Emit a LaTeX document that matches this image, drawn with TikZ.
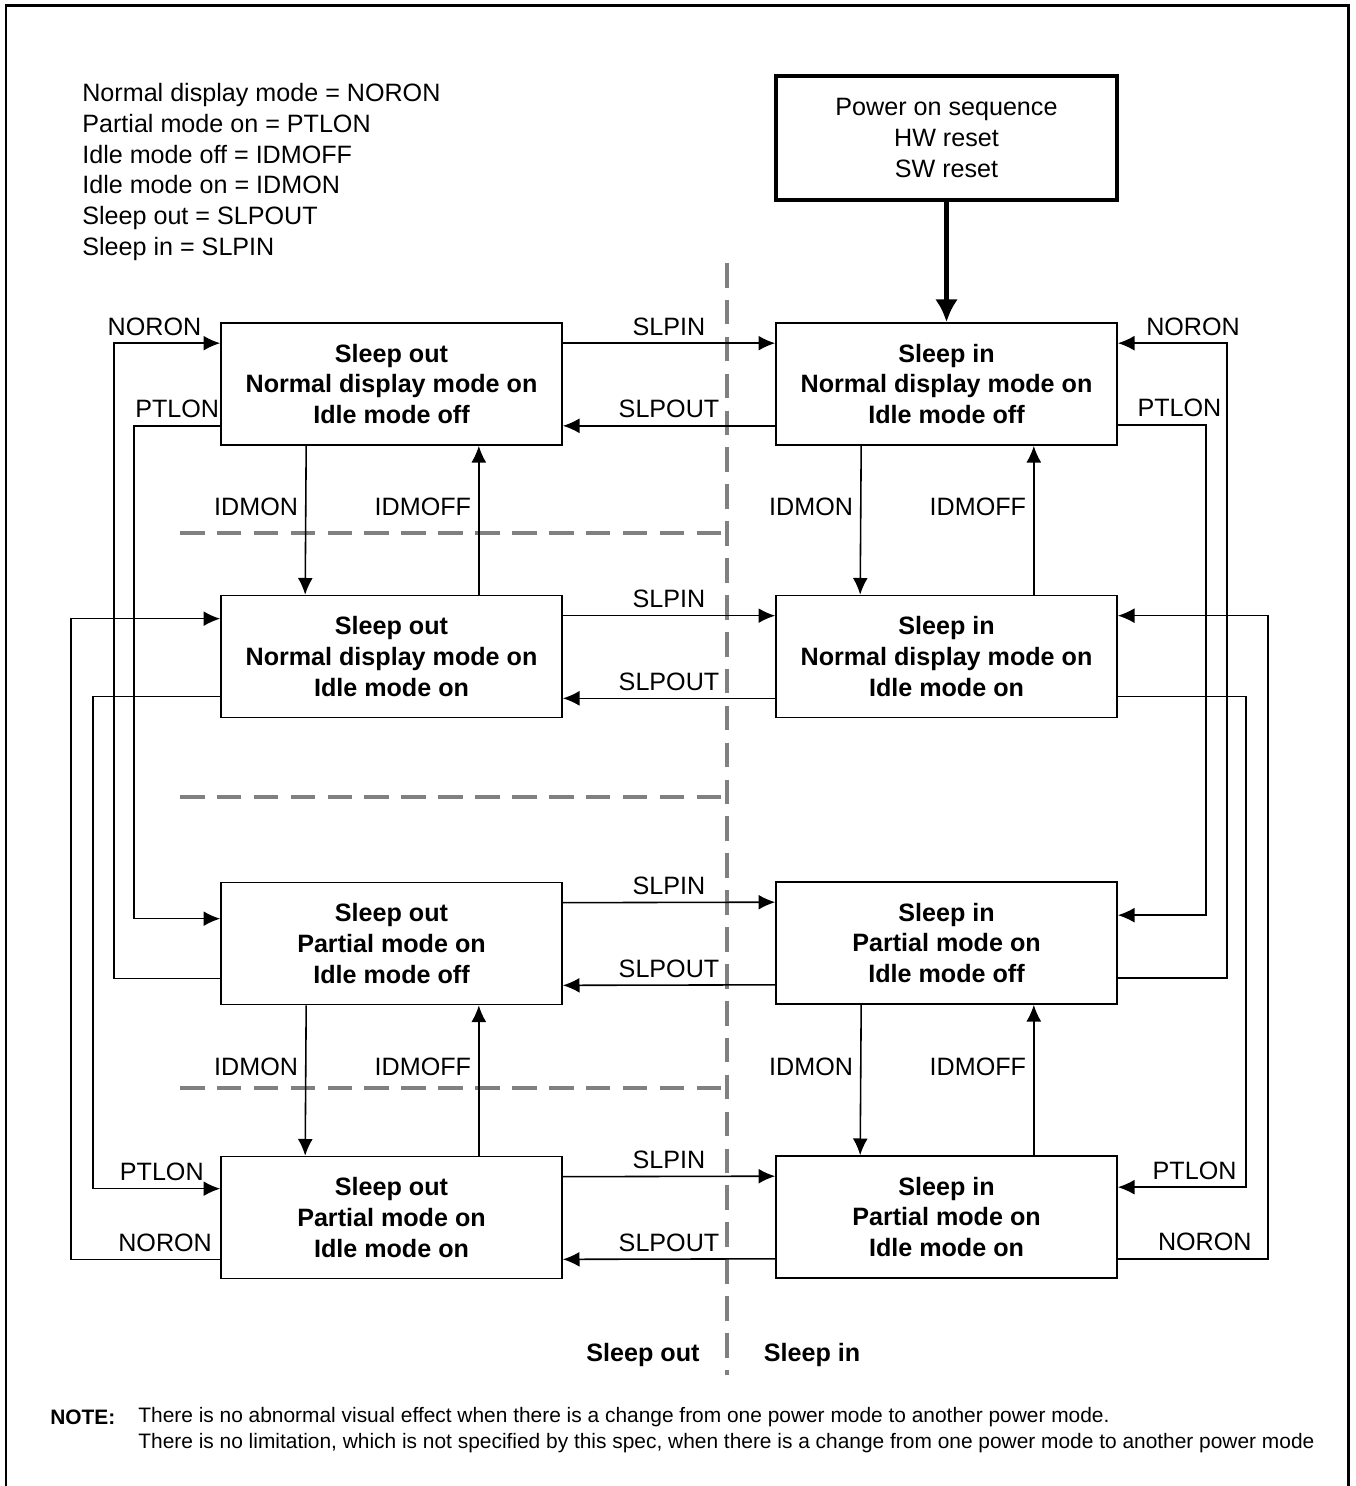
\documentclass[tikz,border=0pt]{standalone}
\usepackage{fontspec}
\setmainfont{Liberation Sans}
\usetikzlibrary{arrows.meta}
\newcommand\mainsize{\fontsize{14.3}{17.6}\selectfont}
\newcommand\notesize{\fontsize{11.9}{14.7}\selectfont}
\tikzset{
	state/.style={draw, line width=0.95pt, minimum width=6.82cm, minimum height=2.44cm, inner sep=0pt, align=center, font=\mainsize\bfseries},
	arr/.style={line width=0.9pt, -{Latex[length=9.5pt,width=8.5pt]}},
	cmd/.style={font=\mainsize, inner sep=4pt},
	divider/.style={draw=gray, line width=2.3pt, dash pattern=on 14pt off 7pt},
}
\begin{document}
\begin{tikzpicture}[x=0.02cm, y=-0.02cm]
		\useasboundingbox (0,0) rectangle (1355,1486);
		% frame
		\draw[line width=1.7pt] (6,1486) -- (6,6) -- (1348,6) -- (1348,1486);
		% abbreviations
		\node[anchor=west, align=left, inner sep=0pt, font=\mainsize] (legend) at (82,172)
			{Normal display mode = NORON\\Partial mode on = PTLON\\Idle mode off = IDMOFF\\Idle mode on = IDMON\\Sleep out = SLPOUT\\Sleep in = SLPIN};
		% dividers
		\draw[divider] (727,263) -- (727,1375);
		\foreach \y in {533,797,1088}
			\draw[divider] (180,\y) -- (727,\y);
		% states
		\node[draw, line width=2.3pt, minimum width=6.82cm, minimum height=2.48cm, align=center, font=\mainsize] (power) at (946.5,138)
			{Power on sequence\\HW reset\\SW reset};
		\node[state] (outNorm) at (391.5,384) {Sleep out\\Normal display mode on\\Idle mode off};
		\node[state] (outNormIdle) at (391.5,656.5) {Sleep out\\Normal display mode on\\Idle mode on};
		\node[state] (outPart) at (391.5,943.5) {Sleep out\\Partial mode on\\Idle mode off};
		\node[state] (outPartIdle) at (391.5,1217.5) {Sleep out\\Partial mode on\\Idle mode on};
		\node[state] (inNorm) at (946.5,384) {Sleep in\\Normal display mode on\\Idle mode off};
		\node[state] (inNormIdle) at (946.5,656.5) {Sleep in\\Normal display mode on\\Idle mode on};
		\node[state] (inPart) at (946.5,943) {Sleep in\\Partial mode on\\Idle mode off};
		\node[state] (inPartIdle) at (946.5,1217) {Sleep in\\Partial mode on\\Idle mode on};
		% power on
		\draw[line width=2.8pt, -{Latex[length=13pt,width=13pt]}] (power) -- (inNorm);
		% sleep in / sleep out
		\foreach \a/\b in {outNorm/inNorm, outNormIdle/inNormIdle, outPart/inPart, outPartIdle/inPartIdle} {
			\draw[arr] ([yshift=-0.42cm]\a.north east) -- node[cmd, above] {SLPIN} ([yshift=-0.42cm]\b.north west);
			\draw[arr] ([yshift=0.4cm]\b.south west) -- node[cmd, above] {SLPOUT} ([yshift=0.4cm]\a.south east);
		}
		% idle on / off
		\foreach \a/\b in {outNorm/outNormIdle, inNorm/inNormIdle, outPart/outPartIdle, inPart/inPartIdle} {
			\draw[arr] ([xshift=1.72cm]\a.south west) -- node[cmd, left, pos=0.41] {IDMON} ([xshift=1.7cm]\b.north west);
			\draw[arr] ([xshift=-1.68cm]\b.north east) -- node[cmd, left, pos=0.59] {IDMOFF} ([xshift=-1.68cm]\a.south east);
		}
		% normal / partial, sleep out side
		\draw[arr] ([yshift=0.54cm]outPart.south west) -- ++(-2.12cm,0)
			|- node[cmd, above, pos=0.69] {NORON} ([yshift=-0.42cm]outNorm.north west);
		\draw[arr] ([yshift=0.4cm]outNorm.south west) -- node[cmd, above] {PTLON} ++(-1.72cm,0)
			|- ([yshift=-0.74cm]outPart.north west);
		\draw[arr] ([yshift=0.44cm]outNormIdle.south west) -- ++(-2.54cm,0)
			|- node[cmd, above, pos=0.77] {PTLON} ([yshift=-0.66cm]outPartIdle.north west);
		\draw[arr] ([yshift=0.4cm]outPartIdle.south west) -- node[cmd, above, pos=0.37] {NORON} ++(-2.98cm,0)
			|- ([yshift=-0.48cm]outNormIdle.north west);
		% normal / partial, sleep in side
		\draw[arr] ([yshift=0.54cm]inPart.south east) -- ++(2.18cm,0)
			|- node[cmd, above, pos=0.655] {NORON} ([yshift=-0.42cm]inNorm.north east);
		\draw[arr] ([yshift=0.42cm]inNorm.south east) -- node[cmd, above, pos=0.7] {PTLON} ++(1.76cm,0)
			|- ([yshift=-0.68cm]inPart.north east);
		\draw[arr] ([yshift=0.44cm]inNormIdle.south east) -- ++(2.56cm,0)
			|- node[cmd, above, pos=0.7] {PTLON} ([yshift=-0.64cm]inPartIdle.north east);
		\draw[arr] ([yshift=0.4cm]inPartIdle.south east) -- node[cmd, above, pos=0.58] {NORON} ++(3cm,0)
			|- ([yshift=-0.42cm]inNormIdle.north east);
		% sides
		\node[font=\mainsize\bfseries] (outSide) at (643,1355) {Sleep out};
		\node[font=\mainsize\bfseries] (inSide) at (812,1355) {Sleep in};
		% note
		\node[anchor=west, inner sep=0pt, font=\notesize\bfseries] (noteHead) at (50,1417) {NOTE:};
		\node[anchor=west, inner sep=0pt, align=left, font=\notesize] (noteText) at (138,1430)
			{There is no abnormal visual effect when there is a change from one power mode to another power mode.\\
			There is no limitation, which is not specified by this spec, when there is a change from one power mode to another power mode};
\end{tikzpicture}
\end{document}
